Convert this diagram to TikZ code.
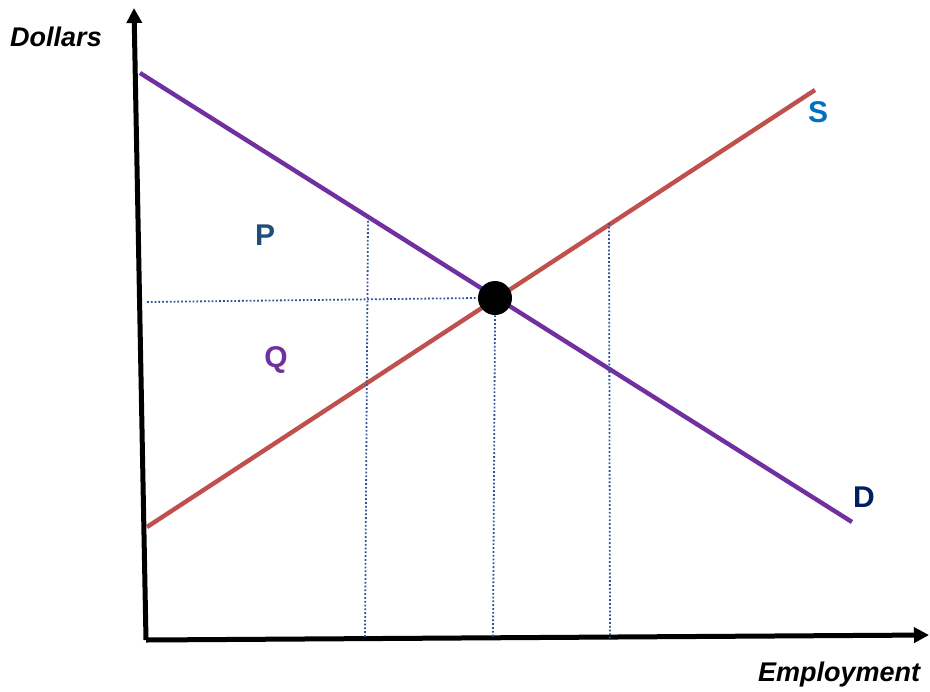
\documentclass[tikz,border=0pt]{standalone}
\usepackage{fontspec}
\setmainfont{Liberation Sans}
\usetikzlibrary{arrows.meta}
\definecolor{curvePurple}{HTML}{7030A0}
\definecolor{curveRed}{HTML}{C0504D}
\definecolor{lblBlue}{HTML}{0070C0}
\definecolor{lblNavy}{HTML}{002060}
\definecolor{lblDark}{HTML}{1F4E79}
\definecolor{guideBlue}{HTML}{2F5597}

\begin{document}
\begin{tikzpicture}[x=0.5pt, y=-0.5pt,
  ax/.style={line width=2.5pt, -{Triangle[length=7.5pt, width=7.5pt]}},
  cv/.style={line width=2.2pt},
  gd/.style={guideBlue, line width=0.9pt, dash pattern=on 0.9pt off 1pt},
  axl/.style={font=\fontsize{13.5}{16}\selectfont\bfseries\itshape},
  cl/.style={font=\fontsize{15}{18}\selectfont\bfseries}]
\useasboundingbox (0,0) rectangle (930,691);
% axes
\coordinate (o) at (146,640); \coordinate (ytop) at (134,8); \coordinate (xend) at (929,635);
\draw[ax] (o) -- (ytop);
\draw[ax] (o) -- (xend);
\node[axl] (dollars) at (56,37) {Dollars};
\node[axl] (employ) at (839,675) {Employment};
% demand and supply
\coordinate (d0) at (140,73); \coordinate (d1) at (852,522);
\coordinate (s0) at (147,527); \coordinate (s1) at (815,90);
\draw[cv, curvePurple] (d0) -- (d1);
\draw[cv, curveRed] (s0) -- (s1);
% guides
\coordinate (wy) at (147,302);
\coordinate (a0) at (368,217); \coordinate (a1) at (365,638);
\coordinate (b1) at (493,638);
\coordinate (c0) at (609,223); \coordinate (c1) at (610,638);
\node[circle, fill=black, minimum size=17pt, inner sep=0pt] (eq) at (495,298) {};
\draw[gd] (wy) -- (eq.west);
\draw[gd] (a0) -- (a1);
\draw[gd] (eq.south) -- (b1);
\draw[gd] (c0) -- (c1);
% labels
\node[cl, lblDark] (p) at (265,235) {P};
\node[cl, curvePurple] (q) at (276,360) {Q};
\node[cl, lblBlue] (s) at (818,112) {S};
\node[cl, lblNavy] (d) at (864,497) {D};
\end{tikzpicture}
\end{document}
